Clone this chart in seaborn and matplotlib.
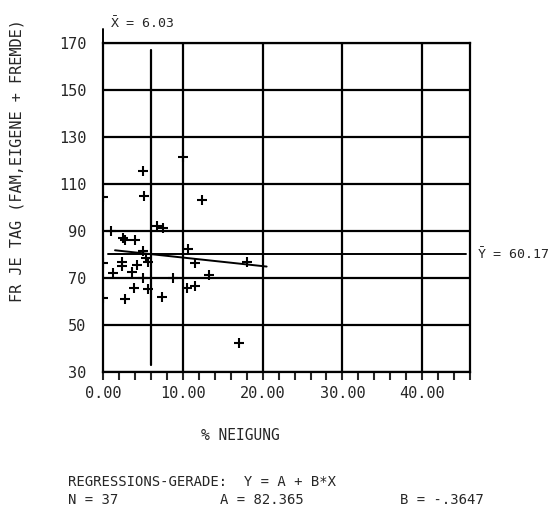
import matplotlib
matplotlib.use("Agg")
import matplotlib.pyplot as plt
import seaborn as sns
import pandas as pd
import numpy as np
from matplotlib.ticker import MultipleLocator, FixedLocator

# ---- data ----
neigung = [0.0, 5.0, 5.1, 10.0, 6.7, 7.5, 1.0, 2.5, 2.7, 4.0, 5.0, 5.4, 5.6,
           2.4, 2.4, 4.2, 3.6, 1.25, 5.0, 8.8, 3.9, 5.6, 2.75, 7.4, 0.0,
           10.6, 10.5, 11.5, 11.5, 13.3, 12.4, 18.1, 17.1, 0.0]
fr_je_tag = [104.5, 115.5, 105.0, 121.5, 92.0, 91.5, 90.0, 87.0, 86.0, 86.0,
             81.5, 78.5, 77.0, 77.0, 75.0, 75.5, 72.5, 72.0, 70.0, 70.0, 65.7,
             65.3, 61.0, 62.0, 61.5, 82.3, 65.7, 66.5, 76.4, 71.3, 103.2, 76.8,
             42.3, 76.5]
x_mean = 6.03
y_mean = 80.17
reg_a = 82.365
reg_b = -0.3647
reg_x_range = [1.5, 20.5]
x_ticks = [0, 10, 20, 30, 40]
x_ticklabels = ["0.00", "10.00", "20.00", "30.00", "40.00"]
y_ticks = [30, 50, 70, 90, 110, 130, 150, 170]

sns.set_style("white")
plt.rcParams['font.family'] = ['DejaVu Sans Mono', 'DejaVu Sans']
plt.rcParams['mathtext.fontset'] = 'custom'
plt.rcParams['mathtext.rm'] = 'DejaVu Sans Mono'
plt.rcParams['mathtext.it'] = 'DejaVu Sans Mono'
plt.rcParams['mathtext.default'] = 'rm'

fig = plt.figure(figsize=(5.57, 5.17), dpi=100)
ax = fig.add_axes([0.185, 0.2805, 0.659, 0.636])

df = pd.DataFrame({"x": neigung, "y": fr_je_tag})

# grid lines
for yv in y_ticks:
    ax.axhline(yv, color="black", lw=1.6, zorder=1)
for xv in x_ticks[1:]:
    ax.axvline(xv, color="black", lw=1.6, zorder=1)

# mean lines
ax.plot([x_mean, x_mean], [33, 167], color="black", lw=1.6, zorder=2)
ax.plot([0.6, 45.5], [y_mean, y_mean], color="black", lw=1.4, zorder=2)

# regression line
rx = np.array(reg_x_range)
ax.plot(rx, reg_a + reg_b * rx, color="black", lw=1.4, zorder=2)

sns.scatterplot(data=df, x="x", y="y", marker="+", color="black", s=55,
                linewidth=1.5, ax=ax, zorder=3, legend=False)

ax.set_xlim(0, 46.0)
ax.set_ylim(30, 170)

ax.set_xticks(x_ticks)
ax.set_xticklabels(x_ticklabels, fontsize=11)
ax.xaxis.set_minor_locator(MultipleLocator(2))
ax.set_yticks(y_ticks)
ax.set_yticklabels([str(v) for v in y_ticks], fontsize=11)
ax.yaxis.set_minor_locator(FixedLocator([40, 60, 80, 100, 120, 140, 160]))

ax.tick_params(axis="y", which="major", direction="out", length=10, width=1.5, pad=2)
ax.tick_params(axis="y", which="minor", direction="out", length=7, width=1.5)
ax.tick_params(axis="x", which="both", direction="out", length=6, width=1.5, pad=4, bottom=True)
ax.tick_params(axis="x", which="minor", bottom=True)

for sp in ax.spines.values():
    sp.set_color("black")
    sp.set_linewidth(1.6)

ax.set_xlabel("")
ax.set_ylabel("")

fig.text(0.431, 0.158, "% NEIGUNG", fontsize=10.5, ha="center", va="center")
fig.text(0.03, 0.69, "FR JE TAG (FAM,EIGENE + FREMDE)", fontsize=11,
         rotation=90, ha="center", va="center")

# X mean label at top
ax.plot([0, 0], [170, 176], color="black", lw=1.4, clip_on=False)
fig.text(0.198, 0.955, r"$\bar{X}$ = 6.03", fontsize=9.5, ha="left", va="center")
# Y mean label at right
fig.text(0.856, 0.508, r"$\bar{Y}$ = 60.17", fontsize=9.5, ha="left", va="center")

fig.text(0.122, 0.068, "REGRESSIONS-GERADE:  Y = A + B*X", fontsize=10,
         ha="left", va="center")
fig.text(0.122, 0.032, "N = 37", fontsize=10, ha="left", va="center")
fig.text(0.395, 0.032, "A = 82.365", fontsize=10, ha="left", va="center")
fig.text(0.718, 0.032, "B = -.3647", fontsize=10, ha="left", va="center")

fig.savefig("out.png", dpi=100)
